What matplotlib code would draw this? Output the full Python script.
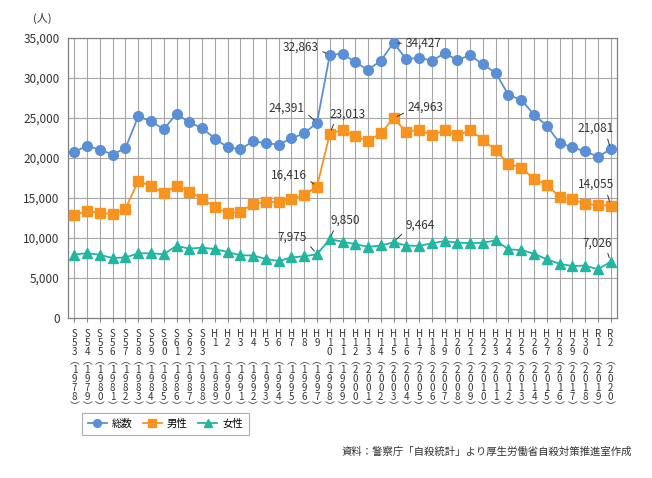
import matplotlib
matplotlib.use('Agg')
import matplotlib.pyplot as plt

plt.rcParams['font.family'] = ['Noto Sans CJK JP', 'DejaVu Sans']

eras = ['S53', 'S54', 'S55', 'S56', 'S57', 'S58', 'S59', 'S60', 'S61', 'S62', 'S63',
        'H1', 'H2', 'H3', 'H4', 'H5', 'H6', 'H7', 'H8', 'H9', 'H10',
        'H11', 'H12', 'H13', 'H14', 'H15', 'H16', 'H17', 'H18', 'H19', 'H20',
        'H21', 'H22', 'H23', 'H24', 'H25', 'H26', 'H27', 'H28', 'H29', 'H30',
        'R1', 'R2']
years = list(range(1978, 2021))

total = [20788, 21503, 21048, 20434, 21228, 25202, 24596, 23599, 25524, 24460,
         23742, 22436, 21346, 21084, 22104, 21851, 21679, 22445, 23104, 24391,
         32863, 33048, 31957, 31042, 32143, 34427, 32325, 32552, 32155, 33093,
         32249, 32845, 31690, 30651, 27858, 27283, 25427, 24025, 21897, 21321,
         20840, 20169, 21081]
male = [12859, 13386, 13155, 12942, 13654, 17116, 16508, 15624, 16497, 15802,
        14934, 13818, 13102, 13242, 14296, 14468, 14560, 14874, 15393, 16416,
        23013, 23512, 22727, 22144, 23080, 24963, 23272, 23540, 22813, 23478,
        22831, 23472, 22283, 20955, 19273, 18787, 17386, 16681, 15121, 14826,
        14290, 14078, 14055]
female = [7929, 8117, 7893, 7492, 7574, 8086, 8088, 7975, 9027, 8658,
          8808, 8618, 8244, 7842, 7808, 7383, 7119, 7571, 7711, 7975,
          9850, 9536, 9230, 8898, 9063, 9464, 9053, 9012, 9342, 9615,
          9418, 9373, 9407, 9696, 8585, 8496, 8041, 7344, 6776, 6495,
          6550, 6091, 7026]

series_names = ['総数', '男性', '女性']

# labelled points: (series, year, text offset px, ha, relpos)
callouts = [
    (0, 1997, (-12, 15), 'right', (1.0, 0.2)),
    (0, 1998, (-11, 8), 'right', (1.0, 0.3)),
    (0, 2003, (12, -1), 'left', (0.0, 0.5)),
    (0, 2020, (-15, 21), 'center', (0.8, 0.0)),
    (1, 1997, (-10, 12), 'right', (1.0, 0.2)),
    (1, 1998, (0, 20), 'left', (0.15, 0.0)),
    (1, 2003, (14, 11), 'left', (0.0, 0.2)),
    (1, 2020, (-15, 21), 'center', (0.8, 0.0)),
    (2, 1997, (-10, 17), 'right', (1.0, 0.1)),
    (2, 1998, (1, 19), 'left', (0.15, 0.0)),
    (2, 2003, (12, 17), 'left', (0.0, 0.1)),
    (2, 2020, (-13, 19), 'center', (0.8, 0.0)),
]


def tick_text(era, year):
    e = era[0] + '\n' + era[1] + '\n' + (era[2] if len(era) > 2 else ' ')
    return e + '\n︵\n' + '\n'.join(str(year)) + '\n︶'


fig = plt.figure(figsize=(6.52, 4.78), dpi=100)
ax = fig.add_axes([68 / 652, 1 - 318 / 478, 549 / 652, 280 / 478])

colors = ['#5b8fd5', '#f7931e', '#22b5a0']
markers = ['o', 's', '^']
sizes = [7, 6.5, 7.5]
data = [total, male, female]
x = list(range(len(years)))
for k in range(3):
    ax.plot(x, data[k], color=colors[k], marker=markers[k], markersize=sizes[k],
            lw=1.3, label=series_names[k], zorder=3)

for s, yr, off, ha, rp in callouts:
    i = years.index(yr)
    v = data[s][i]
    ax.annotate(f'{v:,}', xy=(i, v), xytext=off, textcoords='offset pixels',
                ha=ha, va='center', fontsize=8.5, color='#333333', zorder=4,
                arrowprops=dict(arrowstyle='-', color='#333333', lw=0.7,
                                relpos=rp, shrinkA=1, shrinkB=3))

ax.set_xlim(-0.5, len(years) - 0.5)
ax.set_ylim(0, 35000)
ax.set_yticks(range(0, 35001, 5000))
ax.set_yticklabels([f'{v:,}' for v in range(0, 35001, 5000)], fontsize=8.5, color='#333333')
ax.set_xticks(x)
ax.set_xticklabels([tick_text(e, y) for e, y in zip(eras, years)],
                   fontsize=7, linespacing=0.88, color='#333333', va='top')
ax.tick_params(axis='x', length=3, color='#888888', pad=5)
ax.tick_params(axis='y', length=0, pad=6)
ax.grid(True, color='#a6a6a6', lw=0.8)
ax.set_axisbelow(True)
for sp in ax.spines.values():
    sp.set_color('#808080')
    sp.set_linewidth(0.9)

fig.text(42 / 652, 1 - 18 / 478, '(人)', ha='center', va='center', fontsize=8, color='#333333')

leg = fig.legend(loc='lower left', bbox_to_anchor=(77 / 652, 1 - 440 / 478), ncol=3,
                 fontsize=7.5, frameon=True, fancybox=False, edgecolor='#999999',
                 handlelength=1.8, columnspacing=1.0, handletextpad=0.5, borderpad=0.55,
                 markerscale=0.8)
leg.get_frame().set_linewidth(0.8)

fig.text(632 / 652, 1 - 452 / 478, '資料：警察庁「自殺統計」より厚生労働省自殺対策推進室作成',
         ha='right', va='center', fontsize=7.5, color='#333333')

fig.savefig('out.png', dpi=100)
